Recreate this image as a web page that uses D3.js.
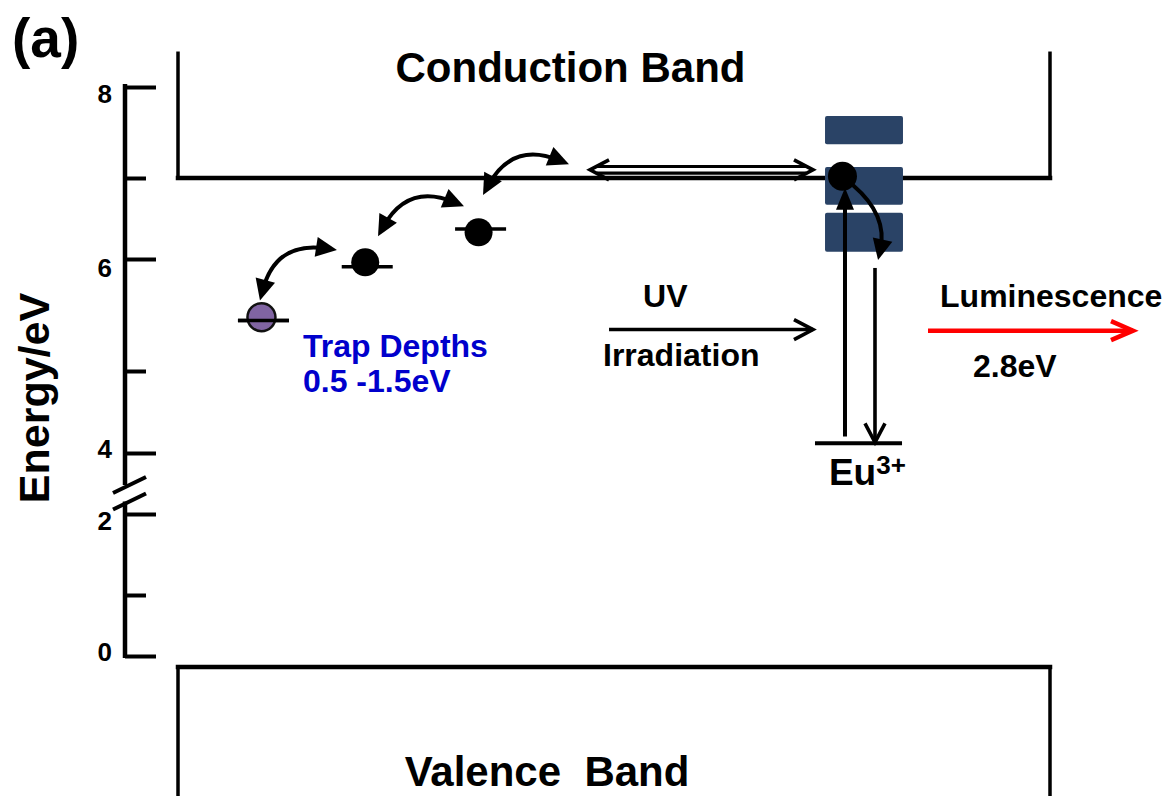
<!DOCTYPE html>
<html><head><meta charset="utf-8">
<script src="https://cdn.jsdelivr.net/npm/d3@7"></script>
<style>
html,body{margin:0;padding:0;background:#fff;}
svg{display:block;font-family:"Liberation Sans",Arial,Helvetica,sans-serif;font-weight:bold;}
text{white-space:pre;}
</style></head><body>
<svg id="chart" width="1172" height="796"></svg>
<script>
// ---------------- data ----------------
// energy axis (eV) – hand-drawn, irregular tick spacing with a break between 4 and 2
const energyTicks = [0, 1, 2, 4, 5, 6, 7, 8];
const majorTicks = [0, 2, 4, 6, 8];
const minorTicks = [1, 5, 7];
const tickLabels = ["0", "2", "4", "6", "8"];
const axisBreak = [2.95, 2.41];
const axisTitle = "Energy/eV";
const panelLabel = "(a)";

// bands (scheme x in 0..100 across the band box, energy in eV)
const bandNames = ["Conduction Band", "Valence  Band"];
const bandEdge = [7.0, -0.18];
const bandOpenEnd = [8.39, -2.6];

// trap levels
const trapX = [9.8, 21.7, 34.7];
const trapLevel = [5.45, 5.93, 6.37];
const trapElectron = [5.48, 5.97, 6.33];
const trapState = ["released", "trapped", "trapped"];
const trapText = ["Trap Depths", "0.5 -1.5eV"];

// hopping arrows between traps / conduction band
const hopFromX = [9.40, 22.94, 34.98];
const hopFromE = [5.63, 6.28, 6.79];
const hopToX = [18.23, 32.80, 44.84];
const hopToE = [6.11, 6.65, 7.15];

// transport along conduction band
const transportX = [47.25, 72.82];
const transportE = 7.09;

// Eu excited levels (rectangles) and ground level
const euLevelX = [74.20, 83.14];
const euExcitedTop = [7.68, 7.12, 6.57];
const euExcitedBottom = [7.37, 6.67, 6.09];
const euElectronX = 76.2, euElectronE = 7.02;
const euGroundX = [73.05, 83.03], euGroundE = 4.12;
const excitationX = 76.49, excitationE = [4.2, 6.88];
const relaxFrom = [77.41, 6.91], relaxTo = [80.28, 5.99];
const emissionX = 79.93, emissionE = [5.92, 4.13];
const euLabel = ["Eu", "3+"];

// UV irradiation and luminescence
const uvX = [49.43, 72.82], uvE = 5.37;
const uvText = ["UV", "Irradiation"];
const lumX = [86.01, 109.52], lumE = 5.36;
const lumText = ["Luminescence", "2.8eV"];

// ---------------- layout ----------------
const svg = d3.select("#chart");
const x = d3.scaleLinear().domain([0, 100]).range([178, 1050]);
const y = d3.scaleLinear().domain(energyTicks).range([656, 595, 514, 453, 371, 259, 178, 87]);
const axisX = 125;
const tickLabelNudge = {0: 5, 2: 16, 4: 5, 6: 18, 8: 16};
const purple = "#8064A2", navy = "#2A4366", blue = "#0000CC", red = "#FF0000";

const defs = svg.append("defs");
function triMarker(id, len, wid, color) {
  defs.append("marker").attr("id", id).attr("markerUnits", "userSpaceOnUse")
    .attr("viewBox", `${-len} ${-wid/2} ${len} ${wid}`)
    .attr("refX", -len * 0.5).attr("refY", 0)
    .attr("markerWidth", len).attr("markerHeight", wid)
    .attr("orient", "auto-start-reverse").style("overflow", "visible")
    .append("path").attr("d", `M${-len},${-wid/2}L0,0L${-len},${wid/2}Z`).attr("fill", color);
}
function chevMarker(id, len, wid, color, sw) {
  defs.append("marker").attr("id", id).attr("markerUnits", "userSpaceOnUse")
    .attr("viewBox", `${-len-4} ${-wid/2-4} ${len+8} ${wid+8}`)
    .attr("refX", 0).attr("refY", 0)
    .attr("markerWidth", len + 8).attr("markerHeight", wid + 8)
    .attr("orient", "auto-start-reverse").style("overflow", "visible")
    .append("path").attr("d", `M${-len},${-wid/2}L0,0L${-len},${wid/2}`)
    .attr("fill", "none").attr("stroke", color).attr("stroke-width", sw)
    .attr("stroke-linejoin", "miter");
}
triMarker("tri", 21, 20, "#000");
triMarker("triUp", 22, 18, "#000");
chevMarker("chev", 19, 20, "#000", 3.6);
chevMarker("chevRed", 22, 19, red, 4.5);

// ---------------- axis ----------------
const gAxis = svg.append("g").attr("transform", `translate(${axisX},0)`);
const majorAxis = d3.axisRight(y).tickValues(majorTicks).tickSize(31).tickFormat("");
const minorAxis = d3.axisRight(y).tickValues(minorTicks).tickSize(21).tickFormat("");
[majorAxis, minorAxis].forEach(ax => {
  const g = gAxis.append("g").call(ax);
  g.select(".domain").remove();
  g.selectAll(".tick line").attr("stroke", "#000").attr("stroke-width", 4);
  g.selectAll(".tick text").remove();
});
// axis spine with break
gAxis.append("line").attr("x1", 0).attr("x2", 0).attr("y1", y(8) - 3).attr("y2", y(axisBreak[0]))
  .attr("stroke", "#000").attr("stroke-width", 4.5);
gAxis.append("line").attr("x1", 0).attr("x2", 0).attr("y1", y(axisBreak[1])).attr("y2", y(0) + 2)
  .attr("stroke", "#000").attr("stroke-width", 4.5);
gAxis.selectAll(".brk").data(axisBreak).join("line").attr("class", "brk")
  .attr("x1", -12).attr("x2", 21).attr("y1", d => y(d) + 8).attr("y2", d => y(d) - 8)
  .attr("stroke", "#000").attr("stroke-width", 4);
svg.selectAll(".tlab").data(majorTicks).join("text").attr("class", "tlab")
  .attr("x", 112).attr("y", (d) => y(d) + tickLabelNudge[d])
  .attr("text-anchor", "end").attr("font-size", 26)
  .text((d, i) => tickLabels[i]);
svg.append("text").attr("transform", "translate(49,398) rotate(-90)")
  .attr("text-anchor", "middle").attr("font-size", 43).text(axisTitle);
svg.append("text").attr("x", 12).attr("y", 57).attr("font-size", 55).text(panelLabel);

// ---------------- bands ----------------
bandEdge.forEach((e, i) => {
  svg.append("line").attr("x1", x(0)).attr("x2", x(100)).attr("y1", y(e)).attr("y2", y(e))
    .attr("stroke", "#000").attr("stroke-width", 4.5).attr("stroke-linecap", "square");
  [0, 100].forEach(xx => svg.append("line").attr("x1", x(xx)).attr("x2", x(xx))
    .attr("y1", y(e)).attr("y2", y(bandOpenEnd[i])).attr("stroke", "#000").attr("stroke-width", 3.5));
});
svg.append("text").attr("x", x(45.01)).attr("y", y(8.06)).attr("text-anchor", "middle")
  .attr("font-size", 42).text(bandNames[0]);
svg.append("text").attr("x", x(42.32)).attr("y", y(-2.13)).attr("text-anchor", "middle")
  .attr("font-size", 42).text(bandNames[1]);

// ---------------- helpers ----------------
function curvePath(x0, e0, x1, e1, k, shorten) {
  const p0 = [x(x0), y(e0)], p2 = [x(x1), y(e1)];
  const dx = p2[0] - p0[0], dy = p2[1] - p0[1];
  const c = [(p0[0] + p2[0]) / 2 + dy * k, (p0[1] + p2[1]) / 2 - dx * k];
  const sh = (p, q, s) => { const vx = p[0] - q[0], vy = p[1] - q[1], L = Math.hypot(vx, vy); return [p[0] - vx / L * s, p[1] - vy / L * s]; };
  const a = sh(p0, c, shorten[0]), b = sh(p2, c, shorten[1]);
  return `M${a[0]},${a[1]}Q${c[0]},${c[1]} ${b[0]},${b[1]}`;
}

// ---------------- traps ----------------
svg.selectAll(".tline").data(trapX).join("line").attr("class", "tline")
  .attr("x1", d => x(d) - 25.5).attr("x2", d => x(d) + 25.5)
  .attr("y1", (d, i) => y(trapLevel[i])).attr("y2", (d, i) => y(trapLevel[i]))
  .attr("stroke", "#000").attr("stroke-width", 3.5);
svg.selectAll(".tdot").data(trapX).join("circle").attr("class", "tdot")
  .attr("cx", d => x(d) - 2).attr("cy", (d, i) => y(trapElectron[i])).attr("r", 14)
  .attr("fill", (d, i) => trapState[i] === "released" ? purple : "#000")
  .attr("stroke", "#111").attr("stroke-width", (d, i) => trapState[i] === "released" ? 2.5 : 0);
svg.selectAll(".tline2").data(trapX).join("line").attr("class", "tline2")
  .attr("x1", d => x(d) - 25.5).attr("x2", d => x(d) + 25.5)
  .attr("y1", (d, i) => y(trapLevel[i])).attr("y2", (d, i) => y(trapLevel[i]))
  .attr("stroke", "#000").attr("stroke-width", 3.5)
  .attr("opacity", (d, i) => trapState[i] === "released" ? 1 : 0);

hopFromX.forEach((fx, i) => {
  svg.append("path").attr("d", curvePath(fx, hopFromE[i], hopToX[i], hopToE[i], 0.45, [10.5, 10.5]))
    .attr("fill", "none").attr("stroke", "#000").attr("stroke-width", 4)
    .attr("marker-start", "url(#tri)").attr("marker-end", "url(#tri)");
});
svg.append("text").attr("x", x(14.33)).attr("y", y(5.125)).attr("font-size", 32).attr("fill", blue).text(trapText[0]);
svg.append("text").attr("x", x(14.33)).attr("y", y(4.744)).attr("font-size", 32).attr("fill", blue).text(trapText[1]);

// ---------------- transport double arrow ----------------
[-3.3, 3.3].forEach(off => svg.append("line")
  .attr("x1", x(transportX[0]) + 7).attr("x2", x(transportX[1]) - 7)
  .attr("y1", y(transportE) + off).attr("y2", y(transportE) + off)
  .attr("stroke", "#000").attr("stroke-width", 3.2));
svg.append("path").attr("d", `M${x(transportX[0])},${y(transportE)}H${x(transportX[1])}`)
  .attr("fill", "none").attr("stroke", "none")
  .attr("marker-start", "url(#chev)").attr("marker-end", "url(#chev)");

// ---------------- Eu centre ----------------
svg.selectAll(".eurect").data(euExcitedTop).join("rect").attr("class", "eurect")
  .attr("x", x(euLevelX[0])).attr("width", x(euLevelX[1]) - x(euLevelX[0]))
  .attr("y", d => y(d)).attr("height", (d, i) => y(euExcitedBottom[i]) - y(d))
  .attr("rx", 2).attr("fill", navy);
svg.append("circle").attr("cx", x(euElectronX)).attr("cy", y(euElectronE)).attr("r", 14.5).attr("fill", "#000");
svg.append("line").attr("x1", x(euGroundX[0])).attr("x2", x(euGroundX[1]))
  .attr("y1", y(euGroundE)).attr("y2", y(euGroundE)).attr("stroke", "#000").attr("stroke-width", 4);
svg.append("path").attr("d", `M${x(excitationX)},${y(excitationE[0])}V${y(excitationE[1]) + 11}`)
  .attr("stroke", "#000").attr("stroke-width", 4).attr("fill", "none").attr("marker-end", "url(#triUp)");
svg.append("path").attr("d", curvePath(relaxFrom[0], relaxFrom[1], relaxTo[0], relaxTo[1], 0.3, [0, 10.5]))
  .attr("fill", "none").attr("stroke", "#000").attr("stroke-width", 4).attr("marker-end", "url(#tri)");
svg.append("path").attr("d", `M${x(emissionX)},${y(emissionE[0])}V${y(emissionE[1])}`)
  .attr("stroke", "#000").attr("stroke-width", 3.6).attr("fill", "none").attr("marker-end", "url(#chev)");
const eu = svg.append("text").attr("x", x(74.65)).attr("y", y(2.96)).attr("font-size", 37);
eu.append("tspan").text(euLabel[0]);
eu.append("tspan").attr("font-size", 26).attr("dy", -11).text(euLabel[1]);

// ---------------- UV and luminescence ----------------
svg.append("path").attr("d", `M${x(uvX[0])},${y(uvE)}H${x(uvX[1])}`)
  .attr("stroke", "#000").attr("stroke-width", 3.6).attr("fill", "none").attr("marker-end", "url(#chev)");
svg.append("text").attr("x", x(53.33)).attr("y", y(5.571)).attr("font-size", 32).text(uvText[0]);
svg.append("text").attr("x", x(48.74)).attr("y", y(5.049)).attr("font-size", 32).text(uvText[1]);
svg.append("path").attr("d", `M${x(lumX[0])},${y(lumE)}H${x(lumX[1])}`)
  .attr("stroke", red).attr("stroke-width", 4.5).attr("fill", "none").attr("marker-end", "url(#chevRed)");
svg.append("text").attr("x", x(87.39)).attr("y", y(5.571)).attr("font-size", 32).text(lumText[0]);
svg.append("text").attr("x", x(91.17)).attr("y", y(4.927)).attr("font-size", 32).text(lumText[1]);
</script>
</body></html>
